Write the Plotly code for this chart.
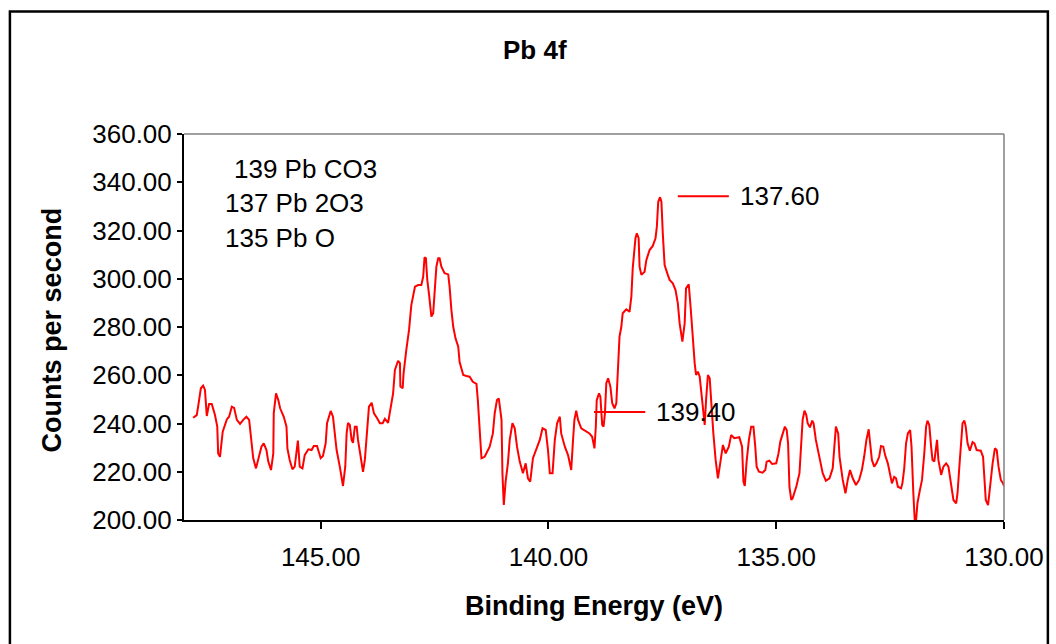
import plotly.graph_objects as go

# Binding energy (eV) and counts per second
energy = [147.80,147.72,147.69,147.63,147.58,147.54,147.50,147.45,147.39,147.32,147.27,147.25,147.21,147.15,147.06,147.01,146.95,146.90,146.84,146.77,
146.70,146.63,146.57,146.52,146.48,146.42,146.37,146.30,146.25,146.19,146.15,146.09,146.04,146.03,145.98,145.93,145.89,145.81,145.75,145.73,
145.68,145.62,145.57,145.53,145.50,145.46,145.40,145.35,145.27,145.20,145.15,145.08,145.00,144.95,144.89,144.86,144.78,144.73,144.65,144.58,
144.54,144.51,144.46,144.43,144.40,144.36,144.32,144.29,144.25,144.21,144.18,144.10,144.07,144.03,143.99,143.94,143.88,143.83,143.76,143.70,
143.64,143.59,143.52,143.47,143.41,143.37,143.30,143.26,143.25,143.20,143.18,143.12,143.06,143.01,142.93,142.86,142.79,142.75,142.72,142.69,
142.66,142.62,142.57,142.53,142.50,142.46,142.42,142.39,142.35,142.28,142.20,142.17,142.13,142.09,142.04,141.98,141.95,141.87,141.80,141.73,
141.66,141.58,141.55,141.51,141.47,141.40,141.29,141.22,141.18,141.13,141.09,141.03,141.01,140.98,140.94,140.89,140.85,140.79,140.74,140.69,
140.63,140.56,140.50,140.45,140.40,140.34,140.27,140.19,140.13,140.06,140.01,139.97,139.91,139.86,139.81,139.75,139.72,139.64,139.57,139.50,
139.46,139.43,139.39,139.35,139.28,139.21,139.10,139.04,139.01,138.99,138.96,138.94,138.89,138.86,138.82,138.79,138.76,138.73,138.69,138.64,
138.60,138.55,138.51,138.48,138.44,138.40,138.37,138.29,138.22,138.18,138.15,138.09,138.06,138.02,138.00,137.96,137.89,137.85,137.78,137.71,
137.65,137.62,137.59,137.55,137.52,137.49,137.45,137.38,137.34,137.27,137.21,137.16,137.12,137.06,137.01,136.98,136.92,136.88,136.83,136.79,
136.76,136.72,136.68,136.63,136.57,136.54,136.50,136.46,136.43,136.38,136.33,136.28,136.23,136.17,136.11,136.04,135.99,135.92,135.81,135.75,
135.72,135.69,135.65,135.60,135.55,135.50,135.46,135.43,135.38,135.30,135.24,135.21,135.15,135.09,135.00,134.95,134.91,134.86,134.81,134.77,
134.74,134.71,134.67,134.64,134.56,134.49,134.45,134.42,134.38,134.34,134.31,134.26,134.21,134.18,134.13,134.05,133.98,133.91,133.83,133.76,
133.72,133.69,133.64,133.61,133.54,133.48,133.43,133.38,133.32,133.25,133.18,133.12,133.07,133.02,132.97,132.94,132.90,132.85,132.80,132.74,
132.70,132.65,132.61,132.55,132.52,132.46,132.41,132.37,132.33,132.26,132.23,132.19,132.15,132.11,132.06,132.03,131.99,131.96,131.93,131.90,
131.86,131.80,131.75,131.71,131.68,131.64,131.60,131.57,131.53,131.49,131.47,131.44,131.38,131.33,131.27,131.22,131.16,131.11,131.05,131.02,
130.98,130.94,130.91,130.87,130.84,130.80,130.75,130.69,130.65,130.60,130.51,130.46,130.43,130.40,130.35,130.31,130.25,130.20,130.16,130.12,
130.07,130.02,130.00]

counts = [242.4,243.5,247.0,254.6,255.7,253.9,243.1,248.1,248.1,243.5,238.7,227.6,226.2,236.6,241.7,242.8,247.0,246.5,241.5,239.8,
241.5,242.8,241.5,233.2,225.6,221.4,224.9,230.4,231.8,229.0,224.2,220.7,227.6,244.2,252.5,249.7,246.3,242.8,238.7,229.7,
224.9,221.0,222.1,227.6,232.9,222.1,221.4,226.9,229.3,229.0,230.7,230.7,225.6,226.5,231.8,240.1,245.2,242.8,229.0,222.1,
216.6,214.1,222.1,235.9,240.3,239.4,233.2,232.0,238.7,238.7,233.2,222.1,220.0,224.9,234.5,247.0,248.6,244.2,242.2,240.1,
240.1,241.9,240.3,245.6,252.5,262.2,266.0,265.0,255.3,254.6,260.8,270.5,278.8,289.1,296.7,297.4,297.4,300.8,308.9,308.5,
299.5,293.3,284.3,285.7,294.0,305.0,308.5,308.5,305.0,302.3,301.8,296.7,287.0,280.1,275.3,271.8,265.5,260.1,259.7,259.4,
257.3,256.4,249.7,234.5,225.6,226.2,230.4,235.9,244.2,249.7,250.4,241.5,219.4,206.2,215.9,223.5,233.2,240.1,238.0,230.4,
224.2,219.4,223.5,217.3,215.9,225.6,229.0,233.2,238.0,237.3,229.0,219.4,219.4,233.2,240.1,242.8,235.9,230.4,226.9,220.7,
233.2,241.5,245.3,241.5,238.0,237.3,235.9,234.5,230.4,229.7,238.7,249.7,252.5,251.1,239.4,238.7,244.2,256.7,258.7,255.3,
248.4,246.3,248.4,260.8,276.0,280.1,285.7,287.3,286.3,292.6,304.3,316.8,318.8,316.8,305.0,301.6,302.9,307.8,311.9,313.6,
316.8,321.6,331.9,333.8,331.9,318.8,305.7,301.6,299.5,298.1,295.3,289.8,281.5,273.9,281.5,296.0,297.7,288.4,274.6,265.0,
260.1,261.5,259.4,249.7,239.4,249.7,260.1,258.7,249.7,235.9,224.9,217.3,223.5,231.1,227.6,230.4,235.2,233.9,234.3,230.4,
215.9,214.1,224.2,233.2,238.7,238.7,230.4,222.1,220.0,219.6,220.7,224.2,224.6,223.2,223.5,227.6,232.5,235.2,238.7,237.3,
231.8,213.8,208.3,209.0,213.8,219.4,230.4,241.5,245.3,243.5,240.1,238.4,241.2,240.1,233.2,226.2,219.4,216.3,217.3,221.4,
233.9,238.7,235.9,226.2,216.6,211.1,216.6,220.7,217.3,214.5,216.6,220.7,226.2,233.2,237.6,231.8,224.9,222.1,223.5,226.2,
230.7,230.4,226.9,223.5,220.7,215.2,217.9,217.3,213.8,213.1,215.2,221.4,231.8,235.9,237.3,230.4,211.1,200.0,200.0,206.9,
211.1,216.6,227.6,238.7,241.2,239.4,230.4,224.9,224.2,230.4,233.2,224.9,218.7,222.1,223.5,222.1,213.8,208.3,206.9,211.1,
222.1,233.2,240.1,241.2,238.7,231.8,228.7,232.3,231.8,229.0,228.7,226.2,216.6,208.3,206.2,213.8,223.5,229.7,229.0,222.1,
216.6,215.2,214.1]

x_range = [148, 130]
y_range = [200, 360]

chart_title = "Pb 4f"
x_title = "Binding Energy (eV)"
y_title = "Counts per second"
notes = ["139 Pb CO3", "137 Pb 2O3", "135 Pb O"]

# Peak label callouts: (text, line start x, line end x, y, text x)
callouts = [("137.60", 137.16, 136.04, 334.2, 135.84),
            ("139.40", 139.00, 137.875, 244.8, 137.69)]

FONT = "Liberation Sans, Arial, sans-serif"
RED = "#FF0000"

fig = go.Figure()
fig.add_trace(go.Scatter(x=energy, y=counts, mode="lines",
                         line=dict(color=RED, width=2), showlegend=False,
                         hoverinfo="x+y"))

annotations = [
    dict(text="<b>%s</b>" % chart_title, x=0.4282, y=1.2176, xref="paper", yref="paper",
         showarrow=False, font=dict(size=26, color="black", family=FONT),
         xanchor="center", yanchor="middle"),
    dict(text="<b>%s</b>" % x_title, x=0.5, y=-0.2228, xref="paper", yref="paper",
         showarrow=False, font=dict(size=27, color="black", family=FONT),
         xanchor="center", yanchor="middle"),
    dict(text="<b>%s</b>" % y_title, x=-0.1606, y=0.492, xref="paper", yref="paper",
         showarrow=False, textangle=-90, font=dict(size=27, color="black", family=FONT),
         xanchor="center", yanchor="middle"),
]
note_pos = [(0.0580, 0.9093), (0.0478, 0.8212), (0.0478, 0.7306)]
for t, (nx, ny) in zip(notes, note_pos):
    annotations.append(dict(text=t, x=nx, y=ny, xref="paper", yref="paper", showarrow=False,
                            font=dict(size=26, color="black", family=FONT),
                            xanchor="left", yanchor="middle"))

shapes = []
for txt, lx0, lx1, ly, tx in callouts:
    shapes.append(dict(type="line", x0=lx0, x1=lx1, y0=ly, y1=ly, xref="x", yref="y",
                       line=dict(color=RED, width=2)))
    annotations.append(dict(text=txt, x=tx, y=ly, xref="x", yref="y", showarrow=False,
                            font=dict(size=26, color="black", family=FONT),
                            xanchor="left", yanchor="middle"))

# plot-area top/right border (gray)
shapes.append(dict(type="line", x0=0, x1=1, y0=1, y1=1, xref="paper", yref="paper",
                   line=dict(color="#808080", width=1.5)))
shapes.append(dict(type="line", x0=1, x1=1, y0=0, y1=1, xref="paper", yref="paper",
                   line=dict(color="#808080", width=1.5)))
# outer chart frame
shapes.append(dict(type="rect", x0=-0.2123, x1=1.0535, y0=-0.45, y1=1.3174,
                   xref="paper", yref="paper", line=dict(color="black", width=2.5),
                   fillcolor="rgba(0,0,0,0)", layer="below"))

fig.update_layout(
    width=1056, height=644,
    margin=dict(l=184, r=48, t=134, b=124),
    paper_bgcolor="white", plot_bgcolor="white",
    font=dict(family=FONT, size=26, color="black"),
    annotations=annotations, shapes=shapes,
    showlegend=False,
)
fig.update_xaxes(range=x_range, tickmode="linear", tick0=130, dtick=5, tickformat=".2f",
                 showgrid=False, zeroline=False, showline=True, linecolor="black", linewidth=2,
                 ticks="outside", ticklen=7, tickwidth=2, tickcolor="black",
                 tickfont=dict(size=26, family=FONT, color="black"), ticklabelstandoff=6)
fig.update_yaxes(range=y_range, tickmode="linear", tick0=200, dtick=20, tickformat=".2f",
                 showgrid=False, zeroline=False, showline=True, linecolor="black", linewidth=2,
                 ticks="outside", ticklen=5, tickwidth=2, tickcolor="black",
                 tickfont=dict(size=26, family=FONT, color="black"), ticklabelstandoff=0)

fig.write_html("out.html")
